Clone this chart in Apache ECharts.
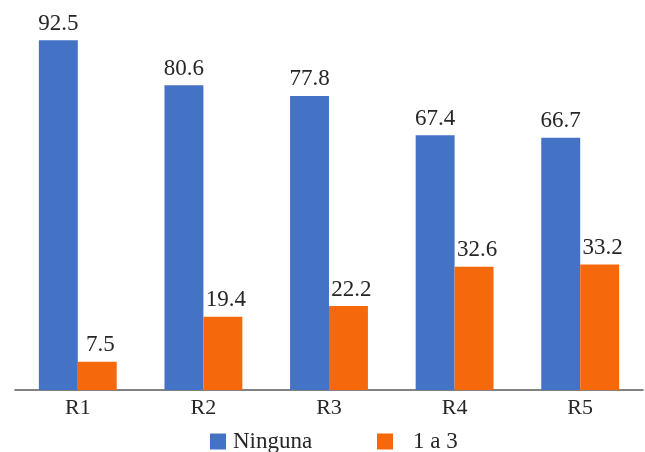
<!DOCTYPE html>
<html>
<head>
<meta charset="utf-8">
<script src="https://cdn.jsdelivr.net/npm/echarts@6/dist/echarts.min.js"></script>
<style>
  html, body { margin: 0; padding: 0; background: #fff; }
  #chart { width: 645px; height: 452px; }
</style>
</head>
<body>
<div id="chart"></div>
<script>
// Categories and series values
const categories = ['R1', 'R2', 'R3', 'R4', 'R5'];
const ningunaValues = [92.5, 80.6, 77.8, 67.4, 66.7];
const unoATresValues = [7.5, 19.4, 22.2, 32.6, 33.2];
const seriesNames = ['Ninguna', '1 a 3'];

const FONT = 'Liberation Serif';
const TEXT = '#262626';

const chart = echarts.init(document.getElementById('chart'), null, { renderer: 'canvas' });

const labelStyle = {
  show: true,
  position: 'top',
  distance: 5,
  fontFamily: FONT,
  fontSize: 23,
  color: TEXT
};

chart.setOption({
  animation: false,
  backgroundColor: '#ffffff',
  grid: { left: 15, right: 2, top: 12, bottom: 62 },
  legend: [
    {
      data: [seriesNames[0]],
      left: 210,
      top: 430,
      padding: 0,
      itemWidth: 16,
      itemHeight: 16,
      icon: 'rect',
      textStyle: { fontFamily: FONT, fontSize: 23, color: TEXT, padding: [0, 0, 0, 2] }
    },
    {
      data: [seriesNames[1]],
      left: 377,
      top: 430,
      padding: 0,
      itemWidth: 16,
      itemHeight: 16,
      icon: 'rect',
      textStyle: { fontFamily: FONT, fontSize: 23, color: TEXT, padding: [0, 0, 0, 15] }
    }
  ],
  xAxis: {
    type: 'category',
    data: categories,
    axisLine: { show: true, lineStyle: { color: '#595959', width: 1.5 } },
    axisTick: { show: false },
    axisLabel: { fontFamily: FONT, fontSize: 22, color: TEXT, margin: 7 }
  },
  yAxis: {
    type: 'value',
    min: 0,
    max: 100,
    show: false,
    splitLine: { show: false }
  },
  series: [
    {
      name: seriesNames[0],
      type: 'bar',
      data: ningunaValues,
      barGap: '0%',
      barCategoryGap: '38%',
      itemStyle: { color: '#4472C4' },
      label: labelStyle
    },
    {
      name: seriesNames[1],
      type: 'bar',
      data: unoATresValues,
      itemStyle: { color: '#F5690C' },
      label: Object.assign({}, labelStyle, { offset: [3, 0] })
    }
  ]
});
</script>
</body>
</html>
